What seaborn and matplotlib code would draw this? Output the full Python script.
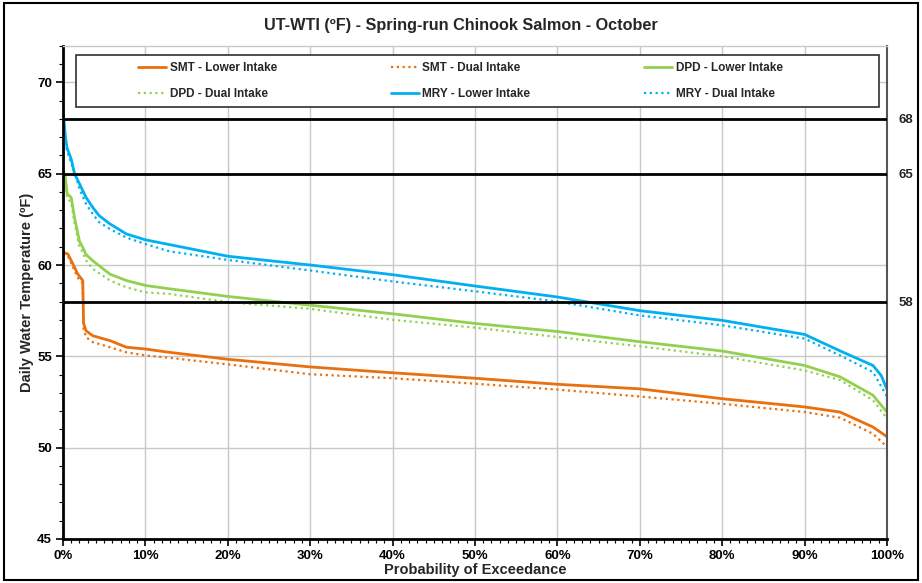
import numpy as np
import pandas as pd
import matplotlib
matplotlib.use("Agg")
import matplotlib.pyplot as plt
from matplotlib.patches import Rectangle
from matplotlib.ticker import MultipleLocator, PercentFormatter, FixedLocator
import seaborn as sns

# ---------------- data ----------------
mry_lower_x = [0, 0.3, 0.5, 1.0, 1.4, 2.0, 2.8, 3.6, 4.4, 5.7, 7.7, 10, 12.9, 20, 30, 40, 50, 60, 70, 80, 90, 94.3, 98.3, 99.3, 100]
mry_lower_t = [68.5, 67.0, 66.4, 65.8, 65.0, 64.45, 63.7, 63.16, 62.7, 62.25, 61.7, 61.38, 61.12, 60.48, 60.0, 59.47, 58.85, 58.25, 57.5, 56.97, 56.2, 55.3, 54.5, 53.95, 53.2]

mry_dual_x = [0, 0.3, 0.5, 1.0, 1.6, 2.0, 2.8, 3.6, 4.4, 5.7, 7.7, 10, 12.9, 20, 30, 40, 50, 60, 70, 80, 90, 94.3, 98.3, 100]
mry_dual_t = [68.3, 66.8, 66.2, 65.6, 64.8, 64.16, 63.34, 62.8, 62.34, 61.97, 61.5, 61.15, 60.75, 60.28, 59.7, 59.1, 58.56, 58.0, 57.24, 56.7, 55.97, 55.05, 54.14, 52.8]

dpd_lower_x = [0, 0.3, 0.5, 1.0, 1.4, 2.0, 2.4, 2.8, 3.6, 5.7, 7.7, 10, 12.9, 20, 30, 40, 50, 60, 70, 80, 90, 94.3, 98.3, 100]
dpd_lower_t = [65.25, 64.8, 63.9, 63.7, 62.6, 61.3, 60.97, 60.57, 60.24, 59.5, 59.15, 58.88, 58.7, 58.28, 57.8, 57.33, 56.8, 56.36, 55.8, 55.29, 54.5, 53.88, 52.87, 51.95]

dpd_dual_x = [0, 0.3, 0.5, 1.0, 1.4, 2.0, 2.4, 2.8, 3.6, 5.7, 7.7, 10, 12.9, 20, 30, 40, 50, 60, 70, 80, 90, 94.3, 98.3, 100]
dpd_dual_t = [65.1, 64.6, 63.7, 63.4, 62.3, 61.0, 60.7, 60.25, 59.8, 59.15, 58.78, 58.5, 58.42, 57.97, 57.6, 57.0, 56.57, 56.06, 55.55, 55.0, 54.23, 53.7, 52.6, 51.6]

smt_lower_x = [0, 0.6, 1.2, 1.8, 2.4, 2.5, 2.8, 3.6, 5.7, 7.7, 10, 12.9, 20, 30, 40, 50, 60, 70, 80, 90, 94.3, 98.3, 100]
smt_lower_t = [60.7, 60.6, 60.06, 59.5, 59.15, 56.8, 56.4, 56.13, 55.86, 55.5, 55.4, 55.22, 54.84, 54.42, 54.1, 53.8, 53.47, 53.22, 52.68, 52.23, 51.95, 51.13, 50.6]

smt_dual_x = [0, 0.6, 1.2, 1.8, 2.4, 2.5, 2.8, 3.6, 5.7, 7.7, 10, 12.9, 20, 30, 40, 50, 60, 70, 80, 90, 94.3, 98.3, 100]
smt_dual_t = [60.6, 60.5, 59.9, 59.3, 59.0, 56.5, 56.05, 55.78, 55.5, 55.22, 55.05, 54.92, 54.56, 54.02, 53.8, 53.5, 53.18, 52.8, 52.4, 51.95, 51.64, 50.76, 50.05]

thresholds = [68, 65, 58]
threshold_labels = ["68", "65", "58"]

title = "UT-WTI (ºF) - Spring-run Chinook Salmon - October"
xlabel = "Probability of Exceedance"
ylabel = "Daily Water Temperature (ºF)"

series = [
    ("SMT - Lower Intake", smt_lower_x, smt_lower_t, "#E8700F", "solid"),
    ("SMT - Dual Intake", smt_dual_x, smt_dual_t, "#E8700F", "dotted"),
    ("DPD - Lower Intake", dpd_lower_x, dpd_lower_t, "#92D050", "solid"),
    ("DPD - Dual Intake", dpd_dual_x, dpd_dual_t, "#92D050", "dotted"),
    ("MRY - Lower Intake", mry_lower_x, mry_lower_t, "#00B0F0", "solid"),
    ("MRY - Dual Intake", mry_dual_x, mry_dual_t, "#00B0F0", "dotted"),
]

# ---------------- styling ----------------
sns.set_theme(style="white")
plt.rcParams["font.family"] = ["Liberation Sans", "DejaVu Sans"]
plt.rcParams["font.weight"] = "bold"

fig = plt.figure(figsize=(9.22, 5.83), dpi=100)
ax = fig.add_axes([0.0683, 0.0755, 0.8937, 0.8459])

handles = {}
for name, xs, ts, col, style in series:
    df = pd.DataFrame({"x": xs, "t": ts})
    if style == "solid":
        ls = "-"
        lw = 2.0
    else:
        ls = (0, (1, 1.6))
        lw = 1.6
    sns.lineplot(data=df, x="x", y="t", ax=ax, color=col, linewidth=lw,
                 linestyle=ls, label=name, sort=True, estimator=None)
    handles[name] = ax.get_lines()[-1]

for th in thresholds:
    ax.axhline(th, color="black", lw=2.0, zorder=3)

ax.set_xlim(0, 100)
ax.set_ylim(45, 72)
ax.xaxis.set_major_locator(MultipleLocator(10))
ax.xaxis.set_minor_locator(MultipleLocator(1))
ax.xaxis.set_major_formatter(PercentFormatter(decimals=0))
ax.yaxis.set_major_locator(FixedLocator([45, 50, 55, 60, 65, 70]))
ax.yaxis.set_minor_locator(MultipleLocator(1))

ax.grid(True, which="major", color="#C8C8C8", lw=1.0)
ax.set_axisbelow(True)

ax.tick_params(axis="both", which="major", direction="out", length=5, width=1.2,
               colors="black", labelsize=9.5, pad=3)
ax.tick_params(axis="both", which="minor", direction="out", length=3, width=0.8,
               colors="black")
ax.tick_params(axis="x", which="major", pad=3)
ax.tick_params(left=True, bottom=True, which="both")
for lab in ax.get_xticklabels() + ax.get_yticklabels():
    lab.set_fontweight("bold")

for side in ["left", "bottom"]:
    ax.spines[side].set_color("black")
    ax.spines[side].set_linewidth(2.0)
ax.spines["right"].set_color("#555555")
ax.spines["right"].set_linewidth(1.5)
ax.spines["top"].set_color("#C8C8C8")
ax.spines["top"].set_linewidth(1.0)

ax.set_xlabel(xlabel, fontsize=10.5, fontweight="bold", labelpad=1)
ax.set_ylabel(ylabel, fontsize=10.5, fontweight="bold", labelpad=2)

# right-hand threshold labels
ax2 = ax.twinx()
ax2.set_ylim(ax.get_ylim())
ax2.set_yticks(thresholds)
ax2.set_yticklabels(threshold_labels, fontweight="bold", fontsize=9.5)
ax2.tick_params(axis="y", length=0, pad=8)
for s in ax2.spines.values():
    s.set_visible(False)

fig.text(0.5, 0.957, title, ha="center", va="center", fontsize=11.7, fontweight="bold")

# legend (row-wise order like the reference)
if ax.get_legend() is not None:
    ax.get_legend().remove()
order = ["SMT - Lower Intake", "DPD - Dual Intake", "SMT - Dual Intake",
         "MRY - Lower Intake", "DPD - Lower Intake", "MRY - Dual Intake"]
box_x0, box_x1 = 0.0158, 0.990
box_y0, box_y1 = 0.876, 0.981
ax.add_patch(Rectangle((box_x0, box_y0), box_x1 - box_x0, box_y1 - box_y0,
                       transform=ax.transAxes, facecolor="white",
                       edgecolor="#303030", lw=1.2, zorder=5))
leg = ax.legend([handles[n] for n in order], order, ncol=3, loc="center",
                bbox_to_anchor=((box_x0 + box_x1) / 2 - 0.0206, (box_y0 + box_y1) / 2),
                frameon=False, handlelength=2.4,
                handletextpad=0.3, columnspacing=9.6, labelspacing=1.15,
                prop={"weight": "bold", "size": 8.5})
leg.set_zorder(6)

# figure border
fig.patches.append(Rectangle((0.004, 0.005), 0.992, 0.99, transform=fig.transFigure,
                             fill=False, edgecolor="black", lw=1.5))

fig.savefig("out.png", dpi=100)
